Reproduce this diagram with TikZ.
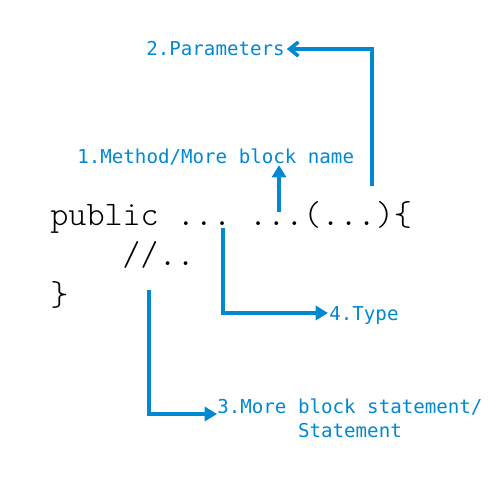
\documentclass[tikz,border=0pt]{standalone}
\usepackage{fontspec}
\setmonofont{Latin Modern Mono Light}
\newfontfamily\labelfont{DejaVu Sans Mono}
\usetikzlibrary{arrows.meta,positioning}

\definecolor{bluearrow}{RGB}{0,136,209}

\tikzset{
	codetext/.style={inner sep=0pt,anchor=base west,font=\ttfamily\fontsize{19.6}{24}\selectfont},
	labeltext/.style={inner sep=0pt,anchor=base west,text=bluearrow,font=\labelfont\fontsize{10.9}{14}\selectfont},
	pointer/.style={draw=bluearrow,line width=2pt,-{Triangle[length=7pt,width=8pt]}},
}

\begin{document}
\begin{tikzpicture}[x=0.02cm,y=-0.02cm]
	% canvas
	\useasboundingbox (0,0) rectangle (500,500);

	% code lines
	\node[codetext] (head) at (50,225) {public ... ...(...)\{};
	\node[codetext] (body) at (122,265) {//..};
	\node[codetext] (close) at (50,305) {\}};

	% labels
	\node[labeltext] (params) at (146,56) {2.Parameters};
	\node[labeltext] (method) at (77,163) {1.Method/More block name};
	\node[labeltext] (type) at (329,320) {4.Type};
	\node[labeltext,anchor=north west,align=center] (stmt) at (217,398) {3.More block statement/\\Statement};

	% arrow start and end points
	\coordinate (nameA) at (279,212);
	\coordinate (paramA) at (372,186);
	\coordinate (typeA) at (223,228);
	\coordinate (typeB) at (328,313);
	\coordinate (stmtA) at (149,290);
	\coordinate (stmtB) at (217,414);

	% arrows
	\draw[pointer] (nameA) -- (nameA |- method.south);
	\draw[pointer,-{Straight Barb[length=5pt,width=8pt]}] (paramA) |- ([xshift=1pt]params.east);
	\draw[pointer] (typeA) |- (typeB);
	\draw[pointer] (stmtA) |- (stmtB);
\end{tikzpicture}
\end{document}
